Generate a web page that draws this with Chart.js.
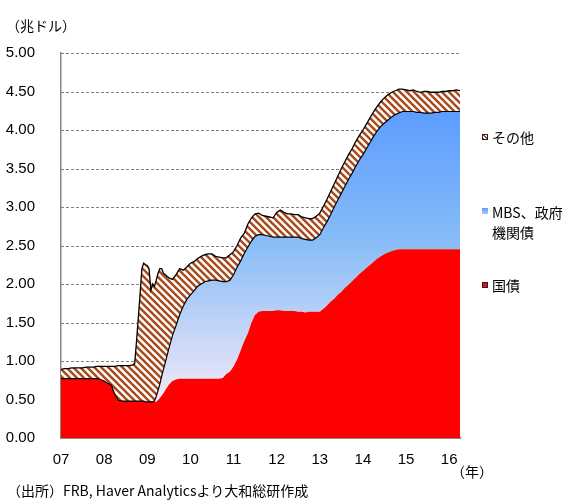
<!DOCTYPE html>
<html>
<head>
<meta charset="utf-8">
<script src="https://cdn.jsdelivr.net/npm/chart.js@4/dist/chart.umd.min.js"></script>
<style>
  html, body { margin: 0; padding: 0; background: #fff; }
  #wrap { position: relative; width: 566px; height: 500px; font-family: "Noto Sans CJK JP", sans-serif; color: #000; }
  #chart { position: absolute; left: 0; top: 0; }
  .t { position: absolute; font-size: 14px; line-height: 18px; white-space: nowrap; }
  .sw { position: absolute; width: 6px; height: 6px; box-sizing: border-box; }
</style>
</head>
<body>
<div id="wrap">
  <canvas id="chart" width="566" height="500"></canvas>
  <div class="t" style="left:6px;top:16px;">（兆ドル）</div>
  <div class="t" style="left:451px;top:462px;">（年）</div>
  <div class="t" style="left:7px;top:481px;">（出所）FRB, Haver Analyticsより大和総研作成</div>

  <div class="sw" style="left:482px;top:134px;border:1px solid #222;background:repeating-linear-gradient(45deg,#a84a1c 0 1.4px,#fff 1.4px 2.8px);"></div>
  <div class="t" style="left:492px;top:128px;">その他</div>
  <div class="sw" style="left:482px;top:208px;background:linear-gradient(#5c9cff,#a9c9f5);"></div>
  <div class="t" style="left:492px;top:202px;line-height:20px;">MBS、政府<br>機関債</div>
  <div class="sw" style="left:482px;top:282px;border:1px solid #222;background:#ff0000;"></div>
  <div class="t" style="left:492px;top:276px;">国債</div>
</div>
<script>
// months since Jan 2007 (half months around the autumn 2008 jump)
const months = [
  0, 1, 2, 3, 4, 5, 6, 7, 8, 9, 10, 11, 12, 13, 14, 15, 16, 17, 18, 19, 20,
  20.5, 21, 21.5, 22, 22.5, 23, 23.5, 24, 24.5, 25, 25.5, 26, 26.5, 27, 27.5, 28, 28.5, 29,
  30, 31, 32, 33, 34, 35, 36, 37, 38, 39, 40, 41, 42, 43, 44, 45, 46, 47, 48, 49,
  50, 51, 52, 53, 54, 55, 56, 57, 58, 59, 60, 61, 62, 63, 64, 65, 66, 67, 68, 69,
  70, 71, 72, 73, 74, 75, 76, 77, 78, 79, 80, 81, 82, 83, 84, 85, 86, 87, 88, 89,
  90, 91, 92, 93, 94, 95, 96, 97, 98, 99, 100, 101, 102, 103, 104, 105, 106, 107, 108, 109,
  110, 111
];
const yearLabels = ['07', '08', '09', '10', '11', '12', '13', '14', '15', '16'];

// 国債 (trillion USD)
const treasury = [
  0.77, 0.77, 0.77, 0.77, 0.77, 0.77, 0.77, 0.77, 0.77, 0.77, 0.77, 0.76, 0.74, 0.71, 0.69, 0.56, 0.49, 0.48, 0.48, 0.48, 0.48,
  0.48, 0.48, 0.48, 0.48, 0.48, 0.48, 0.47, 0.47, 0.47, 0.47, 0.47, 0.47, 0.47, 0.49, 0.52, 0.55, 0.58, 0.62,
  0.69, 0.74, 0.76, 0.77, 0.77, 0.77, 0.77, 0.77, 0.77, 0.77, 0.77, 0.77, 0.77, 0.77, 0.77, 0.78, 0.83, 0.86, 0.93, 1.02,
  1.14, 1.26, 1.36, 1.50, 1.60, 1.64, 1.65, 1.65, 1.65, 1.65, 1.66, 1.66, 1.65, 1.65, 1.65, 1.65, 1.64, 1.64, 1.63, 1.64,
  1.64, 1.64, 1.64, 1.68, 1.72, 1.77, 1.81, 1.86, 1.90, 1.95, 1.99, 2.04, 2.08, 2.13, 2.17, 2.21, 2.25, 2.29, 2.33, 2.36,
  2.39, 2.41, 2.43, 2.44, 2.45, 2.45, 2.45, 2.45, 2.45, 2.45, 2.45, 2.45, 2.45, 2.45, 2.45, 2.45, 2.45, 2.45, 2.45, 2.45,
  2.45, 2.45
];

// MBS、政府機関債
const mbs = [
  0, 0, 0, 0, 0, 0, 0, 0, 0, 0, 0, 0, 0, 0, 0, 0, 0, 0, 0, 0, 0,
  0, 0, 0, 0, 0, 0, 0, 0, 0, 0, 0, 0.01, 0.07, 0.13, 0.18, 0.25, 0.31, 0.36,
  0.47, 0.59, 0.70, 0.83, 0.94, 1.03, 1.09, 1.14, 1.20, 1.23, 1.26, 1.27, 1.28, 1.28, 1.27, 1.25, 1.20, 1.19, 1.19, 1.20,
  1.16, 1.14, 1.12, 1.06, 1.02, 1.00, 0.99, 0.98, 0.97, 0.96, 0.95, 0.95, 0.96, 0.96, 0.96, 0.96, 0.97, 0.95, 0.95, 0.93,
  0.93, 0.96, 1.00, 1.05, 1.09, 1.13, 1.19, 1.23, 1.28, 1.32, 1.37, 1.40, 1.45, 1.48, 1.51, 1.55, 1.59, 1.63, 1.66, 1.69,
  1.70, 1.72, 1.74, 1.76, 1.77, 1.79, 1.79, 1.79, 1.79, 1.78, 1.78, 1.77, 1.77, 1.77, 1.78, 1.78, 1.79, 1.79, 1.79, 1.79,
  1.79, 1.79
];

// その他
const other = [
  0.12, 0.13, 0.13, 0.14, 0.14, 0.14, 0.14, 0.15, 0.15, 0.15, 0.16, 0.17, 0.19, 0.22, 0.24, 0.37, 0.45, 0.46, 0.46, 0.46, 0.47,
  0.49, 0.77, 1.08, 1.39, 1.72, 1.79, 1.78, 1.77, 1.73, 1.45, 1.53, 1.49, 1.51, 1.52, 1.50, 1.40, 1.25, 1.14,
  0.92, 0.73, 0.66, 0.60, 0.47, 0.42, 0.41, 0.38, 0.36, 0.36, 0.35, 0.35, 0.34, 0.31, 0.31, 0.31, 0.31, 0.33, 0.30, 0.28,
  0.30, 0.26, 0.30, 0.30, 0.29, 0.28, 0.25, 0.25, 0.25, 0.25, 0.32, 0.35, 0.32, 0.30, 0.30, 0.29, 0.29, 0.28, 0.28, 0.28,
  0.28, 0.28, 0.28, 0.28, 0.29, 0.30, 0.30, 0.31, 0.32, 0.32, 0.32, 0.32, 0.32, 0.32, 0.32, 0.32, 0.32, 0.32, 0.32, 0.32,
  0.33, 0.33, 0.32, 0.31, 0.31, 0.29, 0.28, 0.27, 0.28, 0.27, 0.26, 0.28, 0.28, 0.27, 0.26, 0.26, 0.26, 0.26, 0.27, 0.27,
  0.28, 0.27
];

const tickFont = { family: '"Liberation Sans", "Noto Sans CJK JP", sans-serif', size: 15 };

function makeHatch() {
  const n = 7;
  const c = document.createElement('canvas');
  c.width = n; c.height = n;
  const g = c.getContext('2d');
  g.fillStyle = '#fff';
  g.fillRect(0, 0, n, n);
  g.strokeStyle = '#a84a1c';
  g.lineWidth = 2.5;
  for (const k of [-n, 0, n]) {
    g.beginPath();
    g.moveTo(k - 1, -1);
    g.lineTo(k + n + 1, n + 1);
    g.stroke();
  }
  return g.createPattern(c, 'repeat');
}

function blueFill(context) {
  const chart = context.chart;
  if (!chart.chartArea) return '#8ab8f5';
  const y = chart.scales.y;
  const grad = chart.ctx.createLinearGradient(0, y.getPixelForValue(4.25), 0, y.getPixelForValue(0.45));
  grad.addColorStop(0, '#5c9cff');
  grad.addColorStop(0.45, '#88bdf7');
  grad.addColorStop(1, '#f4e9f8');
  return grad;
}

// dashed horizontal grid at every y tick, painted before anything else
const dashedGrid = {
  id: 'dashedGrid',
  beforeDraw(chart) {
    const { ctx, chartArea } = chart;
    const y = chart.scales.y;
    if (!chartArea || !y) return;
    ctx.save();
    ctx.strokeStyle = '#808080';
    ctx.lineWidth = 1;
    ctx.setLineDash([3, 2]);
    y.ticks.forEach(t => {
      if (t.value === 0) return;
      const py = Math.round(y.getPixelForValue(t.value)) + 0.5;
      ctx.beginPath();
      ctx.moveTo(chartArea.left, py);
      ctx.lineTo(chartArea.right, py);
      ctx.stroke();
    });
    ctx.restore();
  }
};

const toPoints = arr => months.map((m, i) => ({ x: m, y: arr[i] }));

new Chart(document.getElementById('chart'), {
  type: 'line',
  data: {
    datasets: [{
      label: '国債',
      data: toPoints(treasury),
      backgroundColor: '#ff0000',
      borderWidth: 0,
      fill: 'origin'
    },
    {
      label: 'MBS、政府機関債',
      data: toPoints(mbs),
      backgroundColor: blueFill,
      borderColor: '#000',
      borderWidth: 1.2,
      fill: '-1'
    },
    {
      label: 'その他',
      data: toPoints(other),
      backgroundColor: makeHatch(),
      borderColor: '#000',
      borderWidth: 1.3,
      fill: '-1'
    }]
  },
  plugins: [dashedGrid],
  options: {
    responsive: false,
    animation: false,
    elements: { point: { radius: 0 }, line: { tension: 0 } },
    layout: { padding: { top: 53, right: 106, bottom: 0, left: 0 } },
    scales: {
      x: {
        type: 'linear',
        min: 0,
        max: 111,
        afterFit: s => { s.height = 62; },
        grid: { display: false },
        border: { display: true, color: '#888', width: 2 },
        ticks: {
          stepSize: 12,
          includeBounds: false,
          autoSkip: false,
          maxRotation: 0,
          padding: 5,
          color: '#000',
          font: tickFont,
          callback: v => (v % 12 === 0 ? yearLabels[v / 12] : '')
        }
      },
      y: {
        stacked: true,
        min: 0,
        max: 5,
        afterFit: s => { s.width = 61; },
        grid: { display: false },
        border: { display: true, color: '#888', width: 1.5 },
        ticks: {
          stepSize: 0.5,
          padding: 18,
          color: '#000',
          font: tickFont,
          callback: v => v.toFixed(2)
        }
      }
    },
    plugins: {
      legend: { display: false },
      tooltip: { enabled: false },
      filler: { drawTime: 'beforeDatasetsDraw' }
    }
  }
});
</script>
</body>
</html>
